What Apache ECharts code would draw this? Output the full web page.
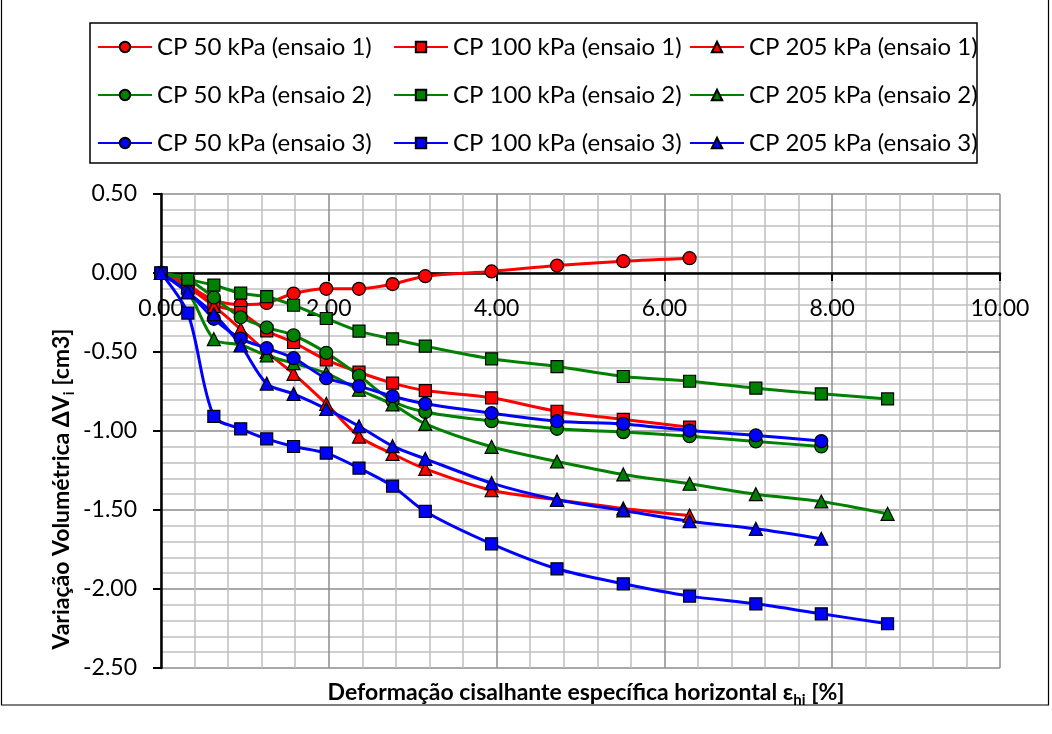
<!DOCTYPE html>
<html>
<head>
<meta charset="utf-8">
<script src="https://cdn.jsdelivr.net/npm/echarts@6/dist/echarts.min.js"></script>
<style>
  html, body { margin: 0; padding: 0; background: #fff; }
  #chart { width: 1052px; height: 734px; }
</style>
</head>
<body>
<div id="chart"></div>
<script>
// Horizontal shear strain [%] at each reading
const strain = [0, 0.32, 0.63, 0.95, 1.26, 1.58, 1.97, 2.36, 2.76, 3.15, 3.94, 4.72, 5.51, 6.30, 7.09, 7.87, 8.66];

// Volume change [cm3] per specimen
const cp50e1  = [0, -0.08, -0.17, -0.20, -0.19, -0.13, -0.10, -0.10, -0.07, -0.02, 0.01, 0.047, 0.075, 0.094];
const cp100e1 = [0, -0.07, -0.20, -0.25, -0.366, -0.44, -0.55, -0.628, -0.697, -0.744, -0.79, -0.875, -0.927, -0.976];
const cp205e1 = [0, -0.09, -0.21, -0.355, -0.50, -0.638, -0.828, -1.035, -1.145, -1.24, -1.375, -1.435, -1.49, -1.535];

const cp50e2  = [0, -0.04, -0.155, -0.28, -0.345, -0.394, -0.505, -0.649, -0.81, -0.88, -0.938, -0.986, -1.007, -1.033, -1.066, -1.098];
const cp100e2 = [0, -0.04, -0.077, -0.128, -0.15, -0.204, -0.288, -0.368, -0.417, -0.463, -0.543, -0.592, -0.655, -0.685, -0.729, -0.765, -0.797];
const cp205e2 = [0, -0.12, -0.419, -0.456, -0.522, -0.571, -0.634, -0.739, -0.832, -0.955, -1.10, -1.193, -1.275, -1.334, -1.40, -1.446, -1.524];

const cp50e3  = [0, -0.12, -0.29, -0.415, -0.476, -0.539, -0.666, -0.716, -0.78, -0.828, -0.887, -0.938, -0.955, -0.997, -1.028, -1.064];
const cp100e3 = [0, -0.254, -0.908, -0.986, -1.05, -1.098, -1.14, -1.235, -1.349, -1.509, -1.714, -1.872, -1.967, -2.045, -2.094, -2.157, -2.22];
const cp205e3 = [0, -0.123, -0.26, -0.457, -0.70, -0.765, -0.86, -0.97, -1.096, -1.176, -1.33, -1.435, -1.503, -1.571, -1.619, -1.682];

const seriesNames = [
  'CP 50 kPa (ensaio 1)', 'CP 100 kPa (ensaio 1)', 'CP 205 kPa (ensaio 1)',
  'CP 50 kPa (ensaio 2)', 'CP 100 kPa (ensaio 2)', 'CP 205 kPa (ensaio 2)',
  'CP 50 kPa (ensaio 3)', 'CP 100 kPa (ensaio 3)', 'CP 205 kPa (ensaio 3)'
];
const seriesValues = [cp50e1, cp100e1, cp205e1, cp50e2, cp100e2, cp205e2, cp50e3, cp100e3, cp205e3];

const xTicks = { min: 0, max: 10, step: 2 };
const yTicks = { min: -2.5, max: 0.5, step: 0.5 };

const FONT = 'Lato, "Open Sans", sans-serif';
const colors = ['#ff0000', '#ff0000', '#ff0000', '#008000', '#008000', '#008000', '#0000ff', '#0000ff', '#0000ff'];
const symbols = ['circle', 'rect', 'triangle'];
const symbolSizes = [13, 12, 13];

// plot area in pixels
const G = { left: 161, right: 52, top: 194, bottom: 66 };
const plotH = 734 - G.top - G.bottom;
// pixel row of the zero line (the horizontal axis crosses there)
const zeroY = G.top + (yTicks.max - 0) / (yTicks.max - yTicks.min) * plotH;

const series = seriesValues.map((vals, i) => ({
  name: seriesNames[i],
  type: 'line',
  smooth: 0.3,
  xAxisIndex: 0,
  yAxisIndex: 0,
  data: vals.map((v, k) => [strain[k], v]),
  symbol: symbols[i % 3],
  symbolSize: symbolSizes[i % 3],
  lineStyle: { color: colors[i], width: 3 },
  itemStyle: { color: colors[i], borderColor: '#000', borderWidth: 1.2 },
  emphasis: { disabled: true },
  animation: false
}));

// one legend per column: 50, 100 and 205 kPa
const legendCols = [97, 393, 689].map((left, c) => ({
  data: [seriesNames[c], seriesNames[c + 3], seriesNames[c + 6]],
  orient: 'vertical',
  left: left,
  top: 34,
  itemWidth: 54,
  itemHeight: 13,
  itemGap: 22,
  padding: 0,
  selectedMode: false,
  textStyle: { fontFamily: FONT, fontSize: 24, color: '#000', lineHeight: 26 }
}));

const chart = echarts.init(document.getElementById('chart'), null, { renderer: 'canvas' });
chart.setOption({
  backgroundColor: '#fff',
  animation: false,
  textStyle: { fontFamily: FONT },
  grid: [
    { left: G.left, right: G.right, top: G.top, bottom: G.bottom },
    // strip whose lower edge sits on the zero line, carrying the x axis
    { left: G.left, right: G.right, top: G.top, bottom: 734 - zeroY }
  ],
  legend: legendCols,
  xAxis: [
    {
      type: 'value', gridIndex: 0,
      min: xTicks.min, max: xTicks.max, interval: xTicks.step,
      axisLine: { show: false },
      axisTick: { show: false },
      axisLabel: { show: false },
      splitLine: { show: true, lineStyle: { color: '#8c8c8c', width: 1.5 } },
      minorTick: { show: false, splitNumber: 5 },
      minorSplitLine: { show: true, lineStyle: { color: '#c0c0c0', width: 1.5 } }
    },
    {
      type: 'value', gridIndex: 1,
      min: xTicks.min, max: xTicks.max, interval: xTicks.step,
      axisLine: { show: true, onZero: false, lineStyle: { color: '#000', width: 2.5 } },
      axisTick: { show: true, inside: false, length: 8, lineStyle: { color: '#000', width: 2 } },
      axisLabel: { fontFamily: FONT, fontSize: 23, color: '#000', margin: 24, formatter: v => v.toFixed(2) },
      splitLine: { show: false }
    }
  ],
  yAxis: [
    {
      type: 'value', gridIndex: 0,
      min: yTicks.min, max: yTicks.max, interval: yTicks.step,
      axisLine: { show: true, onZero: false, lineStyle: { color: '#000', width: 2.5 } },
      axisTick: { show: true, inside: false, length: 8, lineStyle: { color: '#000', width: 2 } },
      axisLabel: { fontFamily: FONT, fontSize: 23, color: '#000', margin: 24, formatter: v => v.toFixed(2) },
      splitLine: { show: true, lineStyle: { color: '#8c8c8c', width: 1.5 } },
      minorTick: { show: false, splitNumber: 5 },
      minorSplitLine: { show: true, lineStyle: { color: '#c0c0c0', width: 1.5 } }
    },
    {
      type: 'value', gridIndex: 1, min: 0, max: 1, show: false
    }
  ],
  graphic: [
    {
      type: 'rect', silent: true, z: 100,
      shape: { x: 90, y: 23, width: 887, height: 140 },
      style: { fill: 'none', stroke: '#000', lineWidth: 1.5 }
    },
    {
      type: 'rect', silent: true, z: 100,
      shape: { x: 1.5, y: -5, width: 1047, height: 710 },
      style: { fill: 'none', stroke: '#000', lineWidth: 1.2 }
    },
    {
      type: 'text', silent: true, z: 100,
      x: 586, y: 693,
      style: {
        text: '{b|Deformação cisalhante específica horizontal ε}{s|hi}{b| [%]}',
        align: 'center', verticalAlign: 'middle',
        textAlign: 'center', textVerticalAlign: 'middle',
        rich: {
          b: { fontFamily: FONT, fontWeight: 'bold', fontSize: 23, lineHeight: 30, verticalAlign: 'middle', fill: '#000' },
          s: { fontFamily: FONT, fontWeight: 'bold', fontSize: 15, lineHeight: 14, verticalAlign: 'bottom', fill: '#000' }
        }
      }
    },
    {
      type: 'text', silent: true, z: 100,
      x: 62, y: 489, rotation: Math.PI / 2,
      style: {
        text: '{b|Variação Volumétrica ΔV}{s|i}{b| [cm3]}',
        align: 'center', verticalAlign: 'middle',
        textAlign: 'center', textVerticalAlign: 'middle',
        rich: {
          b: { fontFamily: FONT, fontWeight: 'bold', fontSize: 23, lineHeight: 30, verticalAlign: 'middle', fill: '#000' },
          s: { fontFamily: FONT, fontWeight: 'bold', fontSize: 15, lineHeight: 14, verticalAlign: 'bottom', fill: '#000' }
        }
      }
    }
  ],
  series: series
});
</script>
</body>
</html>
